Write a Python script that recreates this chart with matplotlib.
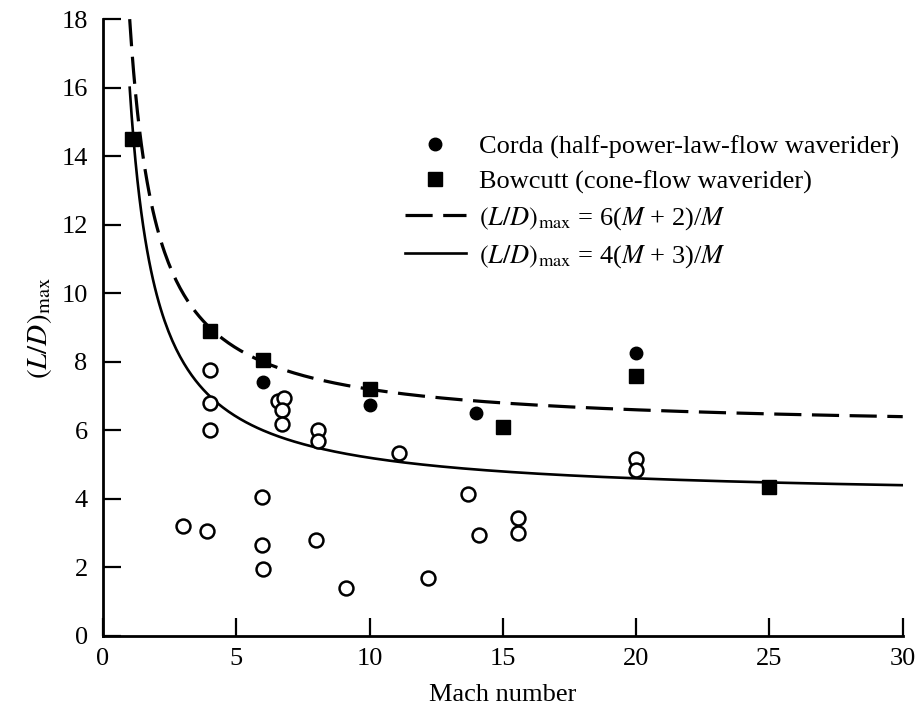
import numpy as np
import matplotlib
matplotlib.use("Agg")
import matplotlib.pyplot as plt
from matplotlib.legend_handler import HandlerLine2D

plt.rcParams['font.family'] = ['Liberation Serif', 'DejaVu Serif']
plt.rcParams['mathtext.fontset'] = 'stix'

# Data
corda_M = [6, 10, 14, 20]
corda_LD = [7.4, 6.75, 6.5, 8.25]

bowcutt_M = [1.1, 4, 6, 10, 15, 20, 25]
bowcutt_LD = [14.5, 8.9, 8.05, 7.2, 6.1, 7.6, 4.35]

other_M = [3.0, 3.9, 4, 4, 4, 5.95, 5.95, 6.0, 6.55, 6.8, 6.7, 6.7,
           8.05, 8.05, 8.0, 9.1, 11.1, 12.2, 13.7, 14.1, 15.55, 15.55, 20, 20]
other_LD = [3.2, 3.05, 7.75, 6.8, 6.0, 4.05, 2.65, 1.95, 6.85, 6.95, 6.6, 6.2,
            6.0, 5.7, 2.8, 1.4, 5.35, 1.7, 4.15, 2.95, 3.45, 3.0, 5.15, 4.85]

x_ticks = [0, 5, 10, 15, 20, 25, 30]
y_ticks = [0, 2, 4, 6, 8, 10, 12, 14, 16, 18]

M = np.linspace(1, 30, 400)
dashed_curve = 6 * (M + 2) / M
solid_curve = 4 * (M + 3) / M

fig = plt.figure(figsize=(9.24, 7.09), dpi=100)
ax = fig.add_axes([0.1115, 0.103, 0.8655, 0.870])

ax.plot(M, dashed_curve, color='black', lw=2.3, linestyle=(0, (8.5, 3.3)),
        label=r'$(L/D)_{\mathrm{max}}$ = 6($M$ + 2)/$M$')
ax.plot(M, solid_curve, color='black', lw=1.9,
        label=r'$(L/D)_{\mathrm{max}}$ = 4($M$ + 3)/$M$')
ax.plot(other_M, other_LD, linestyle='none', marker='o', ms=10,
        mfc='white', mec='black', mew=1.8)
ax.plot(corda_M, corda_LD, linestyle='none', marker='o', ms=9,
        color='black', label='Corda (half-power-law-flow waverider)')
ax.plot(bowcutt_M, bowcutt_LD, linestyle='none', marker='s', ms=10,
        color='black', label='Bowcutt (cone-flow waverider)')

ax.set_xlim(0, 30)
ax.set_ylim(0, 18)
ax.set_xticks(x_ticks)
ax.set_yticks(y_ticks)
ax.tick_params(direction='in', length=13, width=1.6, labelsize=19)
ax.tick_params(axis='x', pad=9)
ax.tick_params(axis='y', pad=11)
for s in ['top', 'right']:
    ax.spines[s].set_visible(False)
for s in ['left', 'bottom']:
    ax.spines[s].set_linewidth(2.0)

ax.set_xlabel('Mach number', fontsize=19, labelpad=10)
ax.set_ylabel(r'$(L/D)_{\mathrm{max}}$', fontsize=21, labelpad=5)


class RightMarker(HandlerLine2D):
    def get_xdata(self, legend, xdescent, ydescent, width, height, fontsize):
        xdata = np.linspace(-xdescent, -xdescent + width, 2)
        return xdata, np.array([-xdescent + 0.87 * width])


handles, labels = ax.get_legend_handles_labels()
order = [2, 3, 0, 1]
leg = ax.legend([handles[i] for i in order], [labels[i] for i in order],
                loc='upper left', bbox_to_anchor=(0.3775, 0.812),
                frameon=False, fontsize=19, handlelength=2.3,
                handletextpad=0.5, labelspacing=0.42, borderaxespad=0,
                borderpad=0,
                handler_map={handles[2]: RightMarker(), handles[3]: RightMarker()})

fig.savefig('out.png', dpi=100)
